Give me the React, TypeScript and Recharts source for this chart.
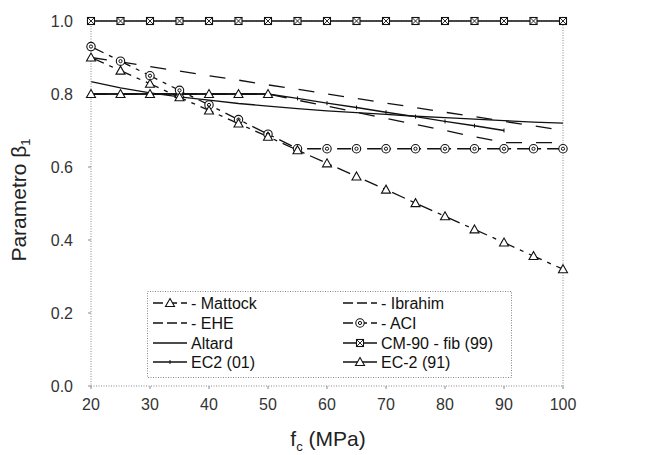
import React from 'react';
import { LineChart, Line, XAxis, YAxis, ReferenceLine } from 'recharts';

// Concrete strength f_c (MPa)
const fcValues = [20, 25, 30, 35, 40, 45, 50, 55, 60, 65, 70, 75, 80, 85, 90, 95, 100];
const xTicks = [20, 30, 40, 50, 60, 70, 80, 90, 100];
const yTicks = [0, 0.2, 0.4, 0.6, 0.8, 1.0];

// Parameter beta1 for each model
const mattock = [0.9, 0.864, 0.828, 0.791, 0.755, 0.719, 0.683, 0.646, 0.61, 0.574, 0.538, 0.501, 0.465, 0.429, 0.393, 0.356, 0.32];
const ibrahim = [0.9, 0.888, 0.875, 0.863, 0.85, 0.838, 0.825, 0.813, 0.8, 0.788, 0.775, 0.763, 0.75, 0.738, 0.725, 0.713, 0.7];
const ehe = [0.8, 0.8, 0.8, 0.8, 0.8, 0.8, 0.8, 0.783, 0.767, 0.75, 0.733, 0.717, 0.7, 0.683, 0.667, 0.667, 0.667];
const aci = [0.93, 0.89, 0.85, 0.81, 0.77, 0.73, 0.69, 0.65, 0.65, 0.65, 0.65, 0.65, 0.65, 0.65, 0.65, 0.65, 0.65];
const altard = [0.834, 0.817, 0.803, 0.792, 0.783, 0.774, 0.767, 0.76, 0.754, 0.749, 0.744, 0.739, 0.735, 0.731, 0.727, 0.723, 0.72];
const cm90 = [1, 1, 1, 1, 1, 1, 1, 1, 1, 1, 1, 1, 1, 1, 1, 1, 1];
const ec2_01 = [0.8, 0.8, 0.8, 0.8, 0.8, 0.8, 0.8, 0.788, 0.775, 0.763, 0.75, 0.738, 0.725, 0.713, 0.7];
const ec2_91 = [0.8, 0.8, 0.8, 0.8, 0.8, 0.8, 0.8];

const data = fcValues.map((fc, i) => ({
  fc,
  mattock: mattock[i],
  ibrahim: ibrahim[i],
  ehe: ehe[i],
  aci: aci[i],
  altard: altard[i],
  cm90: cm90[i],
  ec2_01: ec2_01[i],
  ec2_91: ec2_91[i],
}));

const FONT = '"Liberation Sans", Arial, sans-serif';
const INK = '#111';

type MarkerKind = 'tri' | 'circ' | 'sq' | 'tick' | 'none';

function Marker({ kind, cx, cy }: { kind: MarkerKind; cx: number; cy: number }) {
  if (kind === 'tri') {
    return <path d={`M${cx},${cy - 4.5} L${cx + 4.5},${cy + 3.5} L${cx - 4.5},${cy + 3.5} Z`} fill="#fff" stroke={INK} strokeWidth={1.1} />;
  }
  if (kind === 'circ') {
    return (
      <g>
        <circle cx={cx} cy={cy} r={4.2} fill="#fff" stroke={INK} strokeWidth={1.1} />
        <circle cx={cx} cy={cy} r={1.6} fill="#fff" stroke={INK} strokeWidth={1} />
      </g>
    );
  }
  if (kind === 'sq') {
    return (
      <g>
        <rect x={cx - 3.5} y={cy - 3.5} width={7} height={7} fill="#fff" stroke={INK} strokeWidth={1.1} />
        <path d={`M${cx - 3.5},${cy - 3.5} L${cx + 3.5},${cy + 3.5} M${cx + 3.5},${cy - 3.5} L${cx - 3.5},${cy + 3.5}`} stroke={INK} strokeWidth={0.9} />
      </g>
    );
  }
  if (kind === 'tick') {
    return <path d={`M${cx},${cy - 2} L${cx},${cy + 2}`} stroke={INK} strokeWidth={1} />;
  }
  return null;
}

const makeDot = (kind: MarkerKind) => (props: any) => {
  const { cx, cy, index, value } = props;
  if (cx == null || cy == null || value == null || Number.isNaN(cy)) return <g key={`d-${kind}-${index}`} />;
  return (
    <g key={`d-${kind}-${index}`}>
      <Marker kind={kind} cx={cx} cy={cy} />
    </g>
  );
};

type SeriesDef = { key: string; name: string; dash?: string; marker: MarkerKind; width: number };

const seriesDefs: SeriesDef[] = [
  { key: 'cm90', name: 'CM-90 - fib (99)', marker: 'sq', width: 1.6 },
  { key: 'ibrahim', name: '- Ibrahim', dash: '16 14', marker: 'none', width: 1.3 },
  { key: 'ehe', name: '- EHE', dash: '16 14', marker: 'none', width: 1.3 },
  { key: 'altard', name: 'Altard', marker: 'none', width: 1.3 },
  { key: 'ec2_01', name: 'EC2  (01)', marker: 'tick', width: 1.3 },
  { key: 'ec2_91', name: 'EC-2 (91)', marker: 'tri', width: 1.3 },
  { key: 'aci', name: '- ACI', dash: '14 6 4 6', marker: 'circ', width: 1.3 },
  { key: 'mattock', name: '- Mattock', dash: '14 6 4 6', marker: 'tri', width: 1.3 },
];

// legend arrangement (two columns)
const legendCol1 = ['mattock', 'ehe', 'altard', 'ec2_01'];
const legendCol2 = ['ibrahim', 'aci', 'cm90', 'ec2_91'];

function LegendBox() {
  const rowY = [12, 32, 52, 71];
  const find = (k: string) => seriesDefs.find((s) => s.key === k)!;
  const renderEntry = (k: string, row: number, x0: number) => {
    const s = find(k);
    const y = rowY[row];
    return (
      <g key={k}>
        <line x1={x0} y1={y} x2={x0 + 34} y2={y} stroke={INK} strokeWidth={1.3} strokeDasharray={s.dash ? '10 4' : undefined} />
        {s.marker !== 'none' && <Marker kind={s.marker} cx={x0 + 17} cy={y} />}
        <text x={x0 + 38} y={y + 6} fontSize={16} fill={INK} fontFamily={FONT}>{s.name}</text>
      </g>
    );
  };
  return (
    <svg width={365} height={87} style={{ display: 'block' }}>
      <rect x={0.5} y={0.5} width={364} height={86} fill="#fff" stroke="#888" strokeWidth={1} strokeDasharray="1 1.5" />
      {legendCol1.map((k, i) => renderEntry(k, i, 6))}
      {legendCol2.map((k, i) => renderEntry(k, i, 196))}
    </svg>
  );
}

const YTitle = () => (
  <text transform="translate(26,200) rotate(-90)" textAnchor="middle" fontSize={21} fill="#222" fontFamily={FONT}>
    Parametro β<tspan dy={4} fontSize={13}>1</tspan>
  </text>
);

const XTitle = () => (
  <text x={328} y={446} textAnchor="middle" fontSize={21} fill="#222" fontFamily={FONT}>
    f<tspan dy={5} fontSize={13}>c</tspan><tspan dy={-5}> (MPa)</tspan>
  </text>
);

export default function App() {
  return (
    <div style={{ position: 'absolute', left: 0, top: 0, width: 647, height: 455, background: '#fff' }}>
      <LineChart width={647} height={455} data={data} margin={{ top: 21, right: 84, bottom: 19, left: 31 }}>
        <XAxis
          dataKey="fc"
          type="number"
          domain={[20, 100]}
          ticks={xTicks}
          height={50}
          tickSize={3}
          tickMargin={10}
          axisLine={{ stroke: '#888', strokeDasharray: '1 1.5' }}
          tickLine={{ stroke: '#888' }}
          tick={{ fontSize: 16, fill: '#333', fontFamily: FONT }}
          label={{ content: XTitle } as any}
        />
        <YAxis
          type="number"
          domain={[0, 1]}
          ticks={yTicks}
          width={60}
          tickSize={3}
          tickMargin={15}
          tickFormatter={(v: number) => v.toFixed(1)}
          axisLine={{ stroke: '#888', strokeDasharray: '1 1.5' }}
          tickLine={{ stroke: '#888' }}
          tick={{ fontSize: 16, fill: '#333', fontFamily: FONT }}
          label={{ content: YTitle } as any}
        />
        <ReferenceLine x={100} stroke="#888" strokeDasharray="1 1.5" />
        <ReferenceLine y={1} stroke="#888" strokeDasharray="1 1.5" />
        {seriesDefs.map((s) => (
          <Line
            key={s.key}
            dataKey={s.key}
            name={s.name}
            type="linear"
            stroke={INK}
            strokeWidth={s.width}
            strokeDasharray={s.dash}
            dot={s.marker === 'none' ? false : makeDot(s.marker)}
            activeDot={false}
            isAnimationActive={false}
            connectNulls={false}
          />
        ))}
      </LineChart>
      <div style={{ position: 'absolute', left: 147, top: 291, width: 365, height: 87 }}>
        <LegendBox />
      </div>
    </div>
  );
}
